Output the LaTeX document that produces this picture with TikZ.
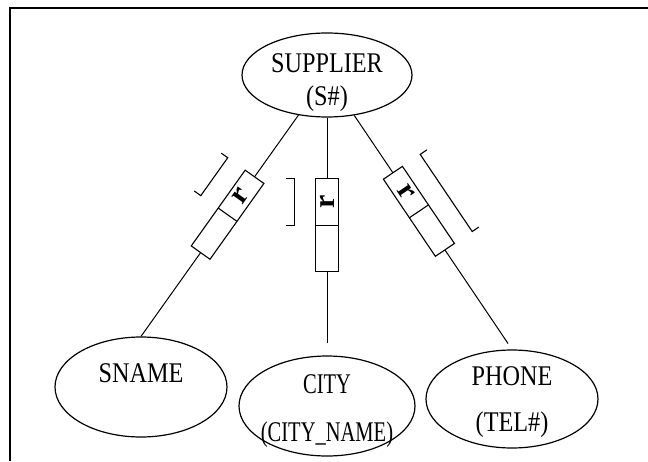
\documentclass[tikz,border=0pt]{standalone}
\usepackage{fontspec}
\setmainfont{Liberation Serif}
\newfontfamily\labelfont[FakeStretch=0.85]{Liberation Serif}
\newfontfamily\narrowfont[FakeStretch=0.72]{Liberation Serif}
\usepackage{tikz}
\usetikzlibrary{shapes.geometric,calc}
\tikzset{
	entity/.style={draw,ellipse,black,line width=1.2pt,inner sep=0pt},
	lbl/.style={align=center,inner sep=0pt,font=\labelfont\fontsize{28.5}{33}\selectfont},
	link/.style={draw,black,line width=1pt},
	keybox/.style={draw,black,line width=1.1pt,rectangle,sloped,fill=white,inner sep=0pt,outer sep=0pt,minimum height=23pt,font=\bfseries\fontsize{30}{30}\selectfont},
	thinedge/.style={draw,black,line width=1.1pt},
	frame/.style={draw,black,line width=1.5pt}
}

\begin{document}
\begin{tikzpicture}[x = {(1pt,0pt)},
                    y = {(0pt,-1pt)}]

\useasboundingbox (0,0) rectangle (648,461);

\draw[frame] (10,461) -- (10,8) -- (648,8);

\node[entity,minimum width=170pt,minimum height=84pt,
      label={[lbl,yshift=-7.5pt]center:{SUPPLIER\\(S\#)}}] (sup) at (327,75) {};
\node[entity,minimum width=172pt,minimum height=100pt,
      label={[lbl,yshift=14pt]center:SNAME}] (sname) at (141,387) {};
\node[entity,minimum width=176pt,minimum height=100pt,
      label={[lbl,font=\narrowfont\fontsize{28.5}{33}\selectfont,yshift=-5pt]center:{CITY\\[15pt](CITY\_NAME)}}] (city) at (327,406) {};
\node[entity,minimum width=172pt,minimum height=98pt,
      label={[lbl,yshift=-3pt]center:{PHONE\\[13pt](TEL\#)}}] (phone) at (512,399) {};

\draw[link] (sup) -- (sname.north)
    node[keybox,pos=.45] (kname) {\makebox[46.5pt]{}\makebox[46.5pt]{r}};
\draw[link,shorten <=12pt] (city) -- (sup)
    node[keybox,pos=.548] (kcity) {\makebox[46.5pt]{}\makebox[46.5pt]{r}};
\draw[link,shorten >=7pt] (sup) -- (phone.north)
    node[keybox,pos=.41] (kphone) {\makebox[46.5pt]{r}\makebox[46.5pt]{}};

\draw[thinedge] (kname.north) -- (kname.south);
\draw[thinedge] (kcity.north) -- (kcity.south);
\draw[thinedge] (kphone.north) -- (kphone.south);

% brackets
\draw[thinedge] ($(kname.south)!2.28!(kname.north)$) -- ($(kname.south)!1.93!(kname.north)$)
    -- ($(kname.south east)!1.93!(kname.north east)$) -- ($(kname.south east)!2.28!(kname.north east)$);
\draw[thinedge] ($(kcity.south)!2.28!(kcity.north)$) -- ($(kcity.south)!1.93!(kcity.north)$)
    -- ($(kcity.south east)!1.93!(kcity.north east)$) -- ($(kcity.south east)!2.28!(kcity.north east)$);
\draw[thinedge] ($(kphone.south west)!2.28!(kphone.north west)$) -- ($(kphone.south west)!1.93!(kphone.north west)$)
    -- ($(kphone.south east)!1.93!(kphone.north east)$) -- ($(kphone.south east)!2.28!(kphone.north east)$);

\end{tikzpicture}
\end{document}
